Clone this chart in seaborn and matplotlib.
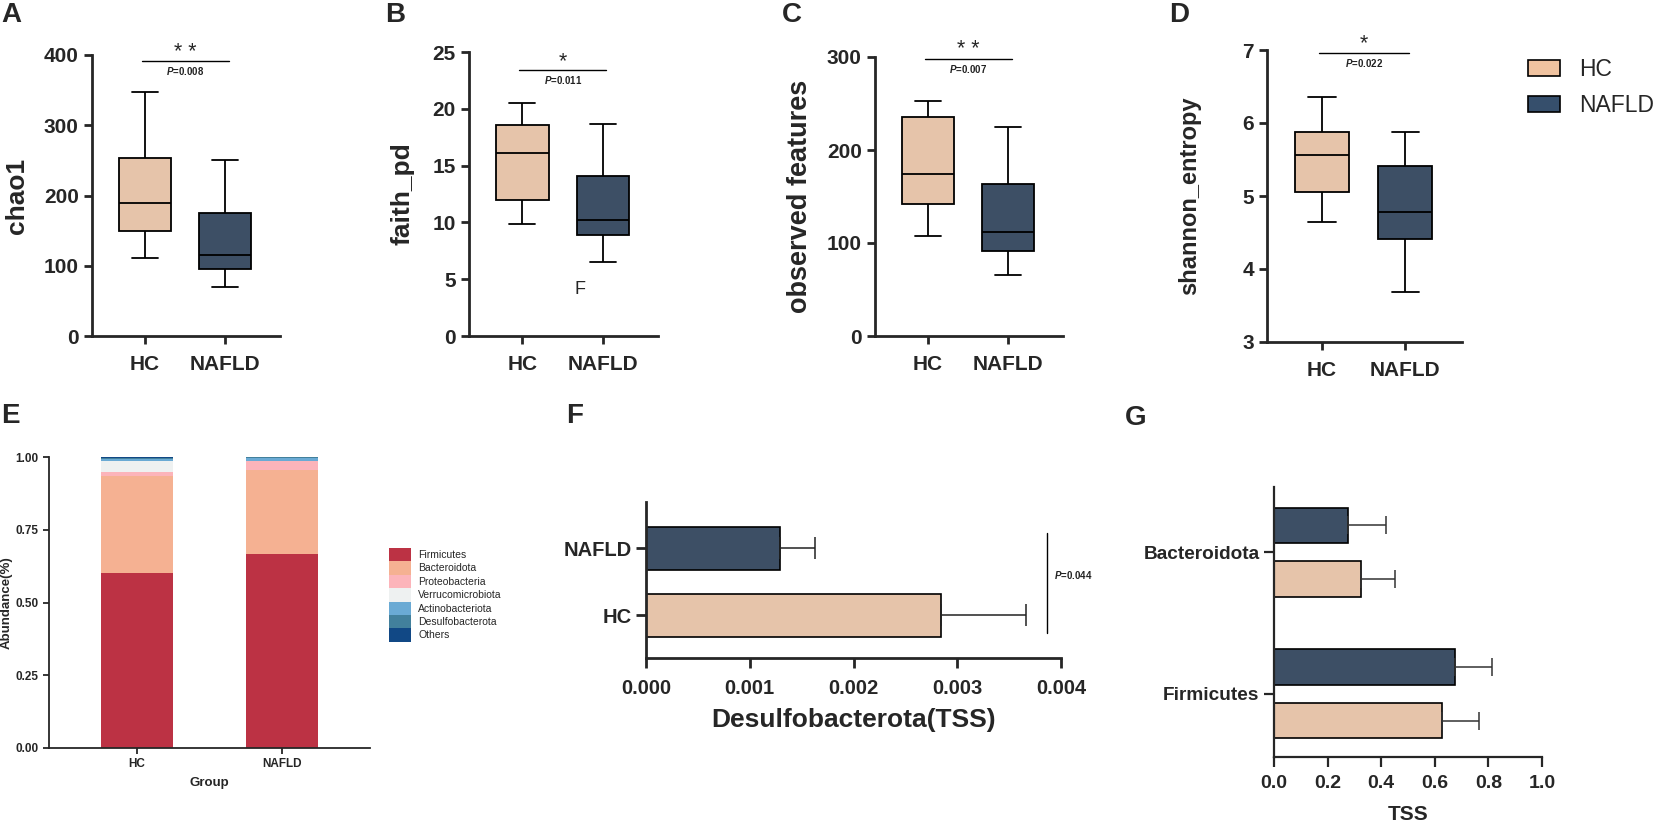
# alpha diversity + phylum composition figure (panels A-G)

import pandas as pd
import matplotlib.pyplot as plt
from matplotlib.patches import Patch
import seaborn as sns

sns.set_style('ticks')
plt.rcParams['font.family'] = ['Liberation Sans', 'DejaVu Sans']
plt.rcParams['font.weight'] = 'bold'
plt.rcParams['axes.labelweight'] = 'bold'
plt.rcParams['mathtext.fontset'] = 'custom'
plt.rcParams['mathtext.it'] = 'Liberation Sans:italic:bold'
plt.rcParams['mathtext.rm'] = 'Liberation Sans:bold'

# ======================================
# data
# ======================================

GROUPS = ['HC', 'NAFLD']
HC_COLOR = '#F0C3A0'
NAFLD_COLOR = '#364F6C'

# box summaries: whisker low, Q1, median, Q3, whisker high
chao1_hc = [111, 149, 189, 254, 347]
chao1_nafld = [70, 96, 116, 175, 250]
faith_hc = [9.9, 12.0, 16.1, 18.6, 20.5]
faith_nafld = [6.5, 8.9, 10.2, 14.1, 18.7]
observed_hc = [107, 142, 174, 235, 253]
observed_nafld = [66, 91, 112, 163, 225]
shannon_hc = [4.65, 5.05, 5.56, 5.87, 6.36]
shannon_nafld = [3.68, 4.41, 4.78, 5.41, 5.88]

alpha_labels = ['chao1', 'faith_pd', 'observed features', 'shannon_entropy']
alpha_stars = ['* *', '*', '* *', '*']
alpha_p = ['0.008', '0.011', '0.007', '0.022']

# relative abundance, stacked from bottom
phyla = ['Firmicutes', 'Bacteroidota', 'Proteobacteria', 'Verrucomicrobiota',
         'Actinobacteriota', 'Desulfobacterota', 'Others']
phyla_colors = ['#BC3244', '#F5B192', '#FCB4BA', '#EEF1F1',
                '#6AAAD4', '#42809C', '#114885']
abund_hc = [0.600, 0.335, 0.015, 0.035, 0.007, 0.004, 0.004]
abund_nafld = [0.665, 0.290, 0.030, 0.002, 0.010, 0.002, 0.001]

# Desulfobacterota (TSS), HC / NAFLD
desulfo_mean = [0.00284, 0.00129]
desulfo_sd = [0.00082, 0.00034]
desulfo_p = '0.044'

# Bacteroidota / Firmicutes (TSS)
tss_phyla = ['Bacteroidota', 'Firmicutes']
tss_hc = [0.325, 0.627]
tss_hc_sd = [0.125, 0.138]
tss_nafld = [0.276, 0.675]
tss_nafld_sd = [0.142, 0.138]

# ======================================
# layout helpers
# ======================================

W, H = 1654, 823
fig = plt.figure(figsize=(W / 100, H / 100), dpi=100)


def add_axes_px(left, top, right, bottom):
    return fig.add_axes([left / W, 1 - bottom / H,
                         (right - left) / W, (bottom - top) / H])


def style_axes(ax, lw, length, xsize, ysize, xpad=3.5):
    sns.despine(ax=ax)
    for side in ['left', 'bottom']:
        ax.spines[side].set_linewidth(lw)
    ax.tick_params(width=lw, length=length)
    ax.tick_params(axis='x', labelsize=xsize, pad=xpad)
    ax.tick_params(axis='y', labelsize=ysize)


def panel_letter(x, y, letter):
    fig.text(x / W, 1 - y / H, letter, fontsize=20, ha='left', va='top')


# ======================================
# A-D: alpha diversity boxplots
# ======================================

box_data = [(chao1_hc, chao1_nafld), (faith_hc, faith_nafld),
            (observed_hc, observed_nafld), (shannon_hc, shannon_nafld)]
box_ylims = [(0, 400), (0, 25), (0, 300), (3, 7)]
box_yticks = [[0, 100, 200, 300, 400], [0, 5, 10, 15, 20, 25],
              [0, 100, 200, 300], [3, 4, 5, 6, 7]]
sig_y = [391, 23.4, 298, 6.96]
box_frames = [(92, 55, 280, 336), (469, 52, 658, 336),
              (875, 57, 1063, 336), (1267, 50, 1462, 342)]
label_x = [17, 402, 800, 1190]
label_size = [19, 19, 19.5, 17]

for i in range(4):

    left, top, right, bottom = box_frames[i]
    ax = add_axes_px(left, top, right, bottom)

    hc, nafld = box_data[i]
    df = pd.DataFrame({
        'group': ['HC'] * len(hc) + ['NAFLD'] * len(nafld),
        'value': hc + nafld
    })

    sns.boxplot(
        data=df, x='group', y='value', hue='group',
        order=GROUPS, hue_order=GROUPS,
        palette=[HC_COLOR, NAFLD_COLOR],
        width=0.65, whis=(0, 100), fliersize=0,
        linecolor='black', linewidth=1.3,
        legend=False, ax=ax
    )

    ax.set_xlim(-0.66, 1.68)
    ax.set_ylim(*box_ylims[i])
    ax.set_yticks(box_yticks[i])
    ax.set_xlabel('')
    ax.set_ylabel(alpha_labels[i], fontsize=label_size[i])
    ax.yaxis.label.set_verticalalignment('center')
    ax.yaxis.set_label_coords((label_x[i] - left) / (right - left), 0.5)
    style_axes(ax, 2.0, 6, 15, 15, xpad=8)

    # significance bar
    ax.plot([-0.04, 1.04], [sig_y[i]] * 2, color='black', lw=1.0,
            clip_on=False)
    ax.annotate(alpha_stars[i], xy=(0.5, sig_y[i]), xytext=(0, 2.5),
                textcoords='offset points', ha='center', va='baseline',
                fontsize=15.5, fontweight='normal', annotation_clip=False)
    ax.annotate(r'$\it{P}$=' + alpha_p[i], xy=(0.5, sig_y[i]),
                xytext=(0, -3), textcoords='offset points', ha='center',
                va='top', fontsize=7, color='#222222',
                annotation_clip=False)

    if i == 1:
        ax.text(0.72, 4.05, 'F', fontsize=13, fontweight='normal',
                ha='center', va='center')

fig.legend(
    handles=[Patch(facecolor=HC_COLOR, edgecolor='black', lw=1.2, label='HC'),
             Patch(facecolor=NAFLD_COLOR, edgecolor='black', lw=1.2,
                   label='NAFLD')],
    loc='upper left', bbox_to_anchor=(1528 / W, 1 - 58 / H),
    frameon=False, prop={'size': 16.5, 'weight': 'normal'},
    handlelength=1.4, handleheight=0.7, labelspacing=0.55,
    handletextpad=0.85, borderpad=0, borderaxespad=0
)

# ======================================
# E: stacked relative abundance
# ======================================

ax_e = add_axes_px(49, 457, 370, 748)

bottom_hc, bottom_nafld = 0.0, 0.0
for name, color, a_hc, a_nafld in zip(phyla, phyla_colors,
                                      abund_hc, abund_nafld):
    ax_e.bar([0, 1], [a_hc, a_nafld], width=0.5,
             bottom=[bottom_hc, bottom_nafld], color=color, label=name,
             linewidth=0)
    bottom_hc += a_hc
    bottom_nafld += a_nafld

ax_e.set_xlim(-0.607, 1.607)
ax_e.set_ylim(0, 1)
ax_e.set_xticks([0, 1])
ax_e.set_xticklabels(GROUPS)
ax_e.set_yticks([0, 0.25, 0.5, 0.75, 1.0])
ax_e.set_yticklabels(['0.00', '0.25', '0.50', '0.75', '1.00'])
ax_e.set_xlabel('Group', fontsize=9.5, labelpad=5)
ax_e.set_ylabel('Abundance(%)', fontsize=9.5)
ax_e.yaxis.label.set_verticalalignment('center')
ax_e.yaxis.set_label_coords((7 - 49) / (370 - 49), 0.5)
style_axes(ax_e, 1.3, 4, 8.5, 8.5)

ax_e.legend(
    loc='upper left', bbox_to_anchor=(389 / W, 1 - 548 / H),
    bbox_transform=fig.transFigure, frameon=False,
    prop={'size': 7.5, 'weight': 'normal'},
    handlelength=2.1, handleheight=1.6, labelspacing=0,
    handletextpad=0.7, borderpad=0, borderaxespad=0
)

# ======================================
# F: Desulfobacterota
# ======================================

ax_f = add_axes_px(646, 502, 1061, 658)

f_order = ['NAFLD', 'HC']
df_f = pd.DataFrame({'group': GROUPS, 'tss': desulfo_mean})

sns.barplot(
    data=df_f, x='tss', y='group', hue='group',
    order=f_order, hue_order=GROUPS,
    palette=[HC_COLOR, NAFLD_COLOR], orient='h',
    width=0.64, edgecolor='black', linewidth=1.2,
    errorbar=None, legend=False, ax=ax_f
)

for pos, g in enumerate(f_order):
    k = GROUPS.index(g)
    ax_f.errorbar(desulfo_mean[k], pos, xerr=[[0], [desulfo_sd[k]]],
                  fmt='none', ecolor='#222222', elinewidth=1.1,
                  capsize=8, capthick=1.1)

ax_f.set_xlim(0, 0.004)
ax_f.set_ylim(1.64, -0.69)
ax_f.set_xticks([0, 0.001, 0.002, 0.003, 0.004])
ax_f.set_xticklabels(['0.000', '0.001', '0.002', '0.003', '0.004'])
ax_f.set_xlabel('Desulfobacterota(TSS)', fontsize=19, labelpad=7)
ax_f.set_ylabel('')
style_axes(ax_f, 2.0, 7, 14.5, 14.5, xpad=8)

ax_f.plot([0.003867] * 2, [-0.22, 1.27], color='black', lw=1.0,
          clip_on=False)
ax_f.text(0.00393, 0.40, r'$\it{P}$=' + desulfo_p, fontsize=7,
          ha='left', va='center', color='#222222', clip_on=False)

# ======================================
# G: Bacteroidota / Firmicutes
# ======================================

ax_g = add_axes_px(1274, 487, 1542, 757)

g_hue = ['NAFLD', 'HC']
df_g = pd.DataFrame({
    'phylum': tss_phyla * 2,
    'group': ['HC'] * 2 + ['NAFLD'] * 2,
    'tss': tss_hc + tss_nafld
})

bar_width = 0.76
sns.barplot(
    data=df_g, x='tss', y='phylum', hue='group',
    order=tss_phyla, hue_order=g_hue,
    palette={'HC': HC_COLOR, 'NAFLD': NAFLD_COLOR}, orient='h',
    width=bar_width, gap=0.35, edgecolor='black', linewidth=1.2,
    errorbar=None, legend=False, ax=ax_g
)

g_means = {'HC': tss_hc, 'NAFLD': tss_nafld}
g_sds = {'HC': tss_hc_sd, 'NAFLD': tss_nafld_sd}
for j, g in enumerate(g_hue):
    offset = (j - 0.5) * bar_width / 2
    for pos in range(len(tss_phyla)):
        ax_g.errorbar(g_means[g][pos], pos + offset,
                      xerr=[[0], [g_sds[g][pos]]],
                      fmt='none', ecolor='#333333', elinewidth=1.1,
                      capsize=6.5, capthick=1.1)

ax_g.set_xlim(0, 1.0)
ax_g.set_ylim(1.444, -0.458)
ax_g.set_xticks([0, 0.2, 0.4, 0.6, 0.8, 1.0])
ax_g.set_xticklabels(['0.0', '0.2', '0.4', '0.6', '0.8', '1.0'])
ax_g.set_xlabel('TSS', fontsize=15, labelpad=9)
ax_g.set_ylabel('')
style_axes(ax_g, 1.6, 7, 14, 13.7, xpad=6)

# ======================================
# panel letters
# ======================================

panel_letter(1, 2, 'A')
panel_letter(385, 2, 'B')
panel_letter(782, 2, 'C')
panel_letter(1169, 2, 'D')
panel_letter(1, 403, 'E')
panel_letter(566, 403, 'F')
panel_letter(1125, 405, 'G')

fig.savefig('out.png', dpi=100)
